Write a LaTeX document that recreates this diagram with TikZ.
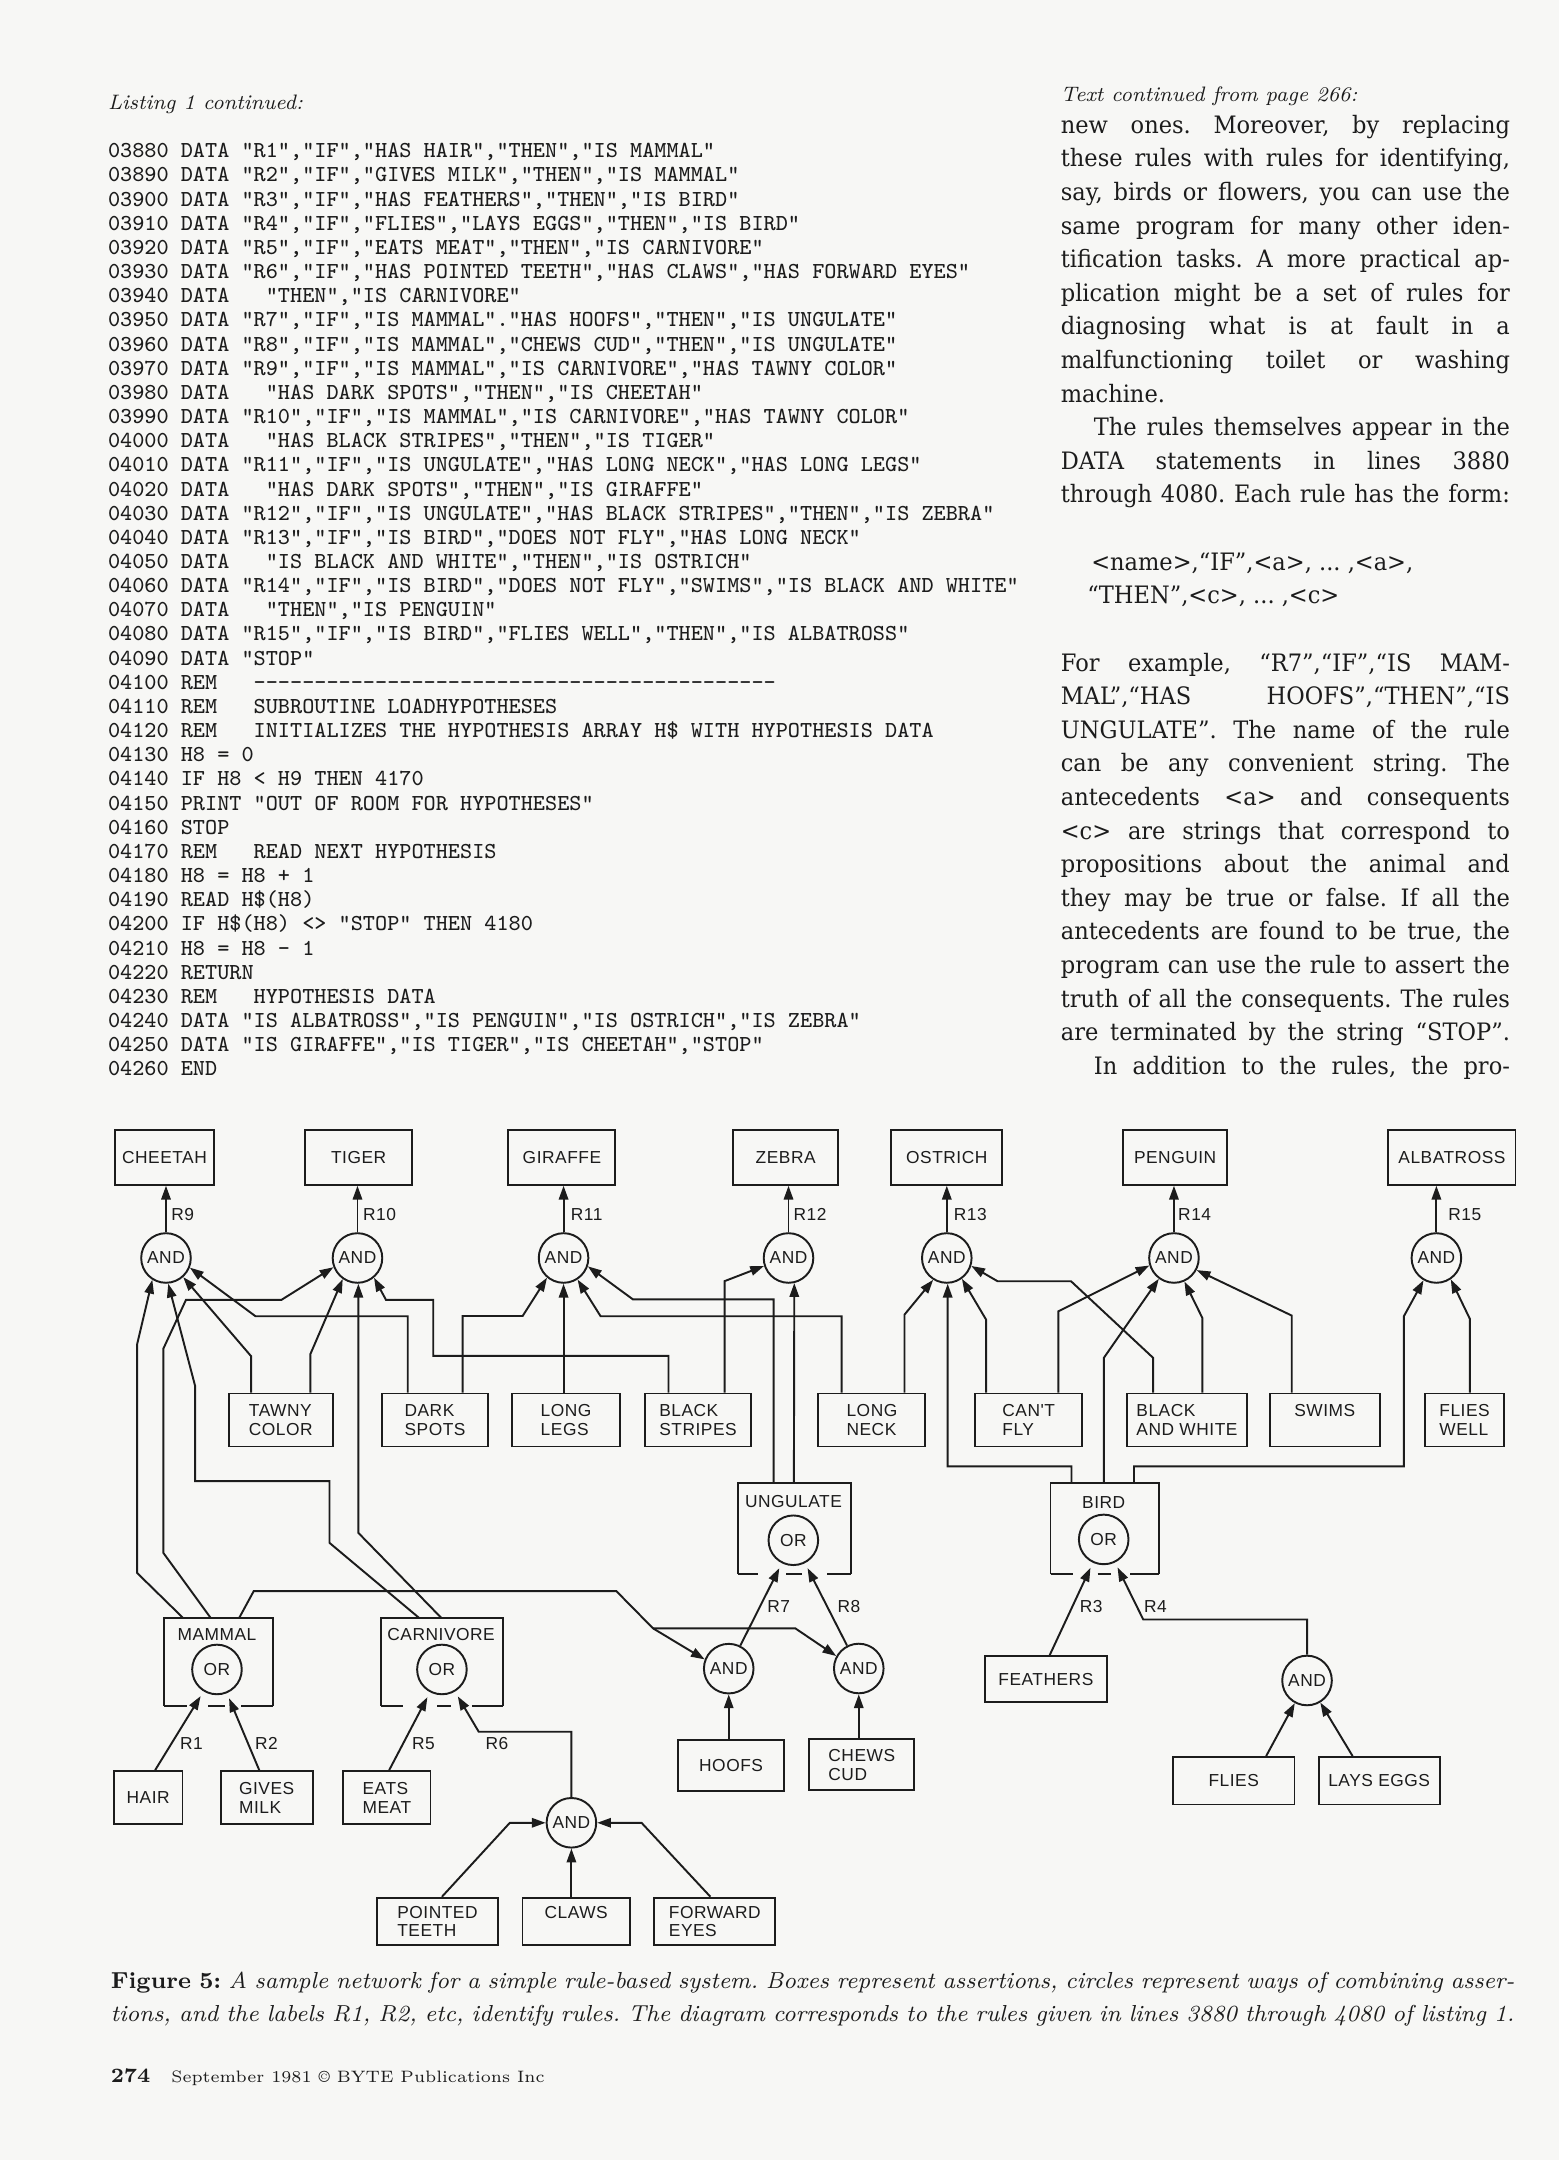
\documentclass[tikz,border=0pt]{standalone}
\usepackage{fontspec}
\newfontfamily\bodyfont[FakeStretch=0.94]{DejaVu Serif}
\newfontfamily\diafont[LetterSpace=3]{Liberation Sans}
\usetikzlibrary{arrows.meta}
\definecolor{paper}{RGB}{247,247,245}
\definecolor{ink}{RGB}{28,28,28}
\newdimen\un \un=0.5pt
\newcommand\J[1]{\makebox[163pt][s]{#1}}
\newcommand\dfont{\diafont\fontsize{6.3}{6.7}\selectfont}
\begin{document}
\frenchspacing
\begin{tikzpicture}[x=0.5pt,y=-0.5pt,
  box/.style={draw=ink,line width=0.7pt,inner sep=0pt,align=left,text=ink,font=\dfont},
  bx/.style 2 args={minimum width=#1\un,minimum height=#2\un},
  cont/.style={inner sep=0pt},
  gate/.style={draw=ink,line width=0.7pt,circle,minimum size=36\un,inner sep=0pt,text=ink,font=\dfont},
  lab/.style={inner sep=0pt,text=ink,font=\dfont},
  wire/.style={draw=ink,line width=0.7pt},
  arr/.style={wire,-{Triangle[length=5pt,width=3.4pt]}},
  arrs/.style={arr,shorten >=2pt},
  lst/.style={anchor=base west,inner sep=0pt,text=ink,font=\ttfamily\fontsize{8.3}{8.8}\selectfont},
  body/.style={anchor=base west,inner sep=0pt,text=ink,font=\bodyfont\fontsize{8.7}{10}\selectfont},
  head/.style={anchor=base west,inner sep=0pt,text=ink,font=\itshape\fontsize{7.6}{9}\selectfont}]
\fill[paper] (0,0) rectangle (1132,1568);
\useasboundingbox (0,0) rectangle (1132,1568);

% ---------------- listing ----------------
\node[head] (lhead) at (78,79.5) {Listing 1 continued:};
\foreach \t [count=\i from 0] in {
{03880 DATA "R1","IF","HAS HAIR","THEN","IS MAMMAL"},
{03890 DATA "R2","IF","GIVES MILK","THEN","IS MAMMAL"},
{03900 DATA "R3","IF","HAS FEATHERS","THEN","IS BIRD"},
{03910 DATA "R4","IF","FLIES","LAYS EGGS","THEN","IS BIRD"},
{03920 DATA "R5","IF","EATS MEAT","THEN","IS CARNIVORE"},
{03930 DATA "R6","IF","HAS POINTED TEETH","HAS CLAWS","HAS FORWARD EYES"},
{03940 DATA~~~"THEN","IS CARNIVORE"},
{03950 DATA "R7","IF","IS MAMMAL"."HAS HOOFS","THEN","IS UNGULATE"},
{03960 DATA "R8","IF","IS MAMMAL","CHEWS CUD","THEN","IS UNGULATE"},
{03970 DATA "R9","IF","IS MAMMAL","IS CARNIVORE","HAS TAWNY COLOR"},
{03980 DATA~~~"HAS DARK SPOTS","THEN","IS CHEETAH"},
{03990 DATA "R10","IF","IS MAMMAL","IS CARNIVORE","HAS TAWNY COLOR"},
{04000 DATA~~~"HAS BLACK STRIPES","THEN","IS TIGER"},
{04010 DATA "R11","IF","IS UNGULATE","HAS LONG NECK","HAS LONG LEGS"},
{04020 DATA~~~"HAS DARK SPOTS","THEN","IS GIRAFFE"},
{04030 DATA "R12","IF","IS UNGULATE","HAS BLACK STRIPES","THEN","IS ZEBRA"},
{04040 DATA "R13","IF","IS BIRD","DOES NOT FLY","HAS LONG NECK"},
{04050 DATA~~~"IS BLACK AND WHITE","THEN","IS OSTRICH"},
{04060 DATA "R14","IF","IS BIRD","DOES NOT FLY","SWIMS","IS BLACK AND WHITE"},
{04070 DATA~~~"THEN","IS PENGUIN"},
{04080 DATA "R15","IF","IS BIRD","FLIES WELL","THEN","IS ALBATROSS"},
{04090 DATA "STOP"},
{04100 REM~~~-{}-{}-{}-{}-{}-{}-{}-{}-{}-{}-{}-{}-{}-{}-{}-{}-{}-{}-{}-{}-{}-{}-{}-{}-{}-{}-{}-{}-{}-{}-{}-{}-{}-{}-{}-{}-{}-{}-{}-{}-{}-{}-{}},
{04110 REM~~~SUBROUTINE LOADHYPOTHESES},
{04120 REM~~~INITIALIZES THE HYPOTHESIS ARRAY H\$ WITH HYPOTHESIS DATA},
{04130 H8 = 0},
{04140 IF H8 < H9 THEN 4170},
{04150 PRINT "OUT OF ROOM FOR HYPOTHESES"},
{04160 STOP},
{04170 REM~~~READ NEXT HYPOTHESIS},
{04180 H8 = H8 + 1},
{04190 READ H\$(H8)},
{04200 IF H\$(H8) <> "STOP" THEN 4180},
{04210 H8 = H8 - 1},
{04220 RETURN},
{04230 REM~~~HYPOTHESIS DATA},
{04240 DATA "IS ALBATROSS","IS PENGUIN","IS OSTRICH","IS ZEBRA"},
{04250 DATA "IS GIRAFFE","IS TIGER","IS CHEETAH","STOP"},
{04260 END}}
  \node[lst] (L\i) at (78,114.5+17.54*\i) {\t};

% ---------------- right column ----------------
\node[head] (thead) at (769.7,74) {Text continued from page 266:};
\node[body] (b0) at (769.7,96.7) {\J{new ones. Moreover, by replacing}};
\node[body] (b1) at (769.7,121.1) {\J{these rules with rules for identifying,}};
\node[body] (b2) at (769.7,145.5) {\J{say, birds or flowers, you can use the}};
\node[body] (b3) at (769.7,169.9) {\J{same program for many other iden-}};
\node[body] (b4) at (769.7,194.3) {\J{tification tasks. A more practical ap-}};
\node[body] (b5) at (769.7,218.7) {\J{plication might be a set of rules for}};
\node[body] (b6) at (769.7,243.1) {\J{diagnosing what is at fault in a}};
\node[body] (b7) at (769.7,267.5) {\J{malfunctioning toilet or washing}};
\node[body] (b8) at (769.7,291.9) {machine.};
\node[body] (b9) at (769.7,316.3) {\J{\hspace*{12pt}The rules themselves appear in the}};
\node[body] (b10) at (769.7,340.7) {\J{DATA statements in lines 3880}};
\node[body] (b11) at (769.7,365.1) {\J{through 4080. Each rule has the form:}};
\node[body] (b13) at (791.8,413.9) {<name>,“IF”,<a>, ... ,<a>,};
\node[body] (b14) at (789,438.3) {“THEN”,<c>, ... ,<c>};
\node[body] (b16) at (769.7,487.1) {\J{For example, “R7”,“IF”,“IS MAM-}};
\node[body] (b17) at (769.7,511.5) {\J{MAL”,“HAS HOOFS”,“THEN”,“IS}};
\node[body] (b18) at (769.7,535.9) {\J{UNGULATE”. The name of the rule}};
\node[body] (b19) at (769.7,560.3) {\J{can be any convenient string. The}};
\node[body] (b20) at (769.7,584.7) {\J{antecedents <a> and consequents}};
\node[body] (b21) at (769.7,609.1) {\J{<c> are strings that correspond to}};
\node[body] (b22) at (769.7,633.5) {\J{propositions about the animal and}};
\node[body] (b23) at (769.7,657.9) {\J{they may be true or false. If all the}};
\node[body] (b24) at (769.7,682.3) {\J{antecedents are found to be true, the}};
\node[body] (b25) at (769.7,706.7) {\J{program can use the rule to assert the}};
\node[body] (b26) at (769.7,731.1) {\J{truth of all the consequents. The rules}};
\node[body] (b27) at (769.7,755.5) {\J{are terminated by the string “STOP”.}};
\node[body] (b28) at (769.7,779.9) {\J{\hspace*{12pt}In addition to the rules, the pro-}};

% ---------------- diagram: nodes ----------------
\node[box,bx={71.6}{39.5}] (cheetah) at (119.4,840.3) {CHEETAH};
\node[box,bx={77.7}{39.5}] (tiger) at (260.35,840.3) {TIGER};
\node[box,bx={77.6}{39.5}] (giraffe) at (407.9,840.3) {GIRAFFE};
\node[box,bx={75.9}{39.5}] (zebra) at (570.35,840.3) {ZEBRA};
\node[box,bx={80.4}{39.5}] (ostrich) at (687.3,840.3) {OSTRICH};
\node[box,bx={75.3}{39.5}] (penguin) at (853.05,840.3) {PENGUIN};
\node[box,bx={92.2}{39.5}] (albatross) at (1054,840.3) {ALBATROSS};

\node[gate] (a9) at (120.5,913.2) {AND};
\node[gate] (a10) at (259.5,913.2) {AND};
\node[gate] (a11) at (409.1,913.2) {AND};
\node[gate] (a12) at (572.4,913.2) {AND};
\node[gate] (a13) at (687.3,913.2) {AND};
\node[gate] (a14) at (852.2,913.2) {AND};
\node[gate] (a15) at (1042.7,913.2) {AND};

\node[lab,anchor=west] (rl9) at (124,881.5) {R9};
\node[lab,anchor=west] (rl10) at (263.2,881.5) {R10};
\node[lab,anchor=west] (rl11) at (414,881.5) {R11};
\node[lab,anchor=west] (rl12) at (575.7,881.5) {R12};
\node[lab,anchor=west] (rl13) at (692,881.5) {R13};
\node[lab,anchor=west] (rl14) at (854.9,881.5) {R14};
\node[lab,anchor=west] (rl15) at (1051,881.5) {R15};

\node[box,bx={75.9}{38.5}] (tawny) at (203.85,1030.8) {TAWNY\\COLOR};
\node[box,bx={76.6}{38.5}] (dark) at (315.8,1030.8) {DARK\\SPOTS};
\node[box,bx={78.3}{38.5}] (legs) at (410.95,1030.8) {LONG\\LEGS};
\node[box,bx={76.6}{38.5}] (stripes) at (506.7,1030.8) {BLACK\\STRIPES};
\node[box,bx={77.7}{38.5}] (neck) at (632.95,1030.8) {LONG\\NECK};
\node[box,bx={77.6}{38.5}] (cantfly) at (746.8,1030.8) {CAN'T\\FLY};
\node[box,bx={86.5}{38.5}] (bw) at (861.65,1030.8) {BLACK\\AND WHITE};
\node[box,bx={79.7}{38.5}] (swims) at (961.65,1030.8) {SWIMS\\\mbox{}};
\node[box,bx={57.1}{38.5}] (flieswell) at (1063.15,1030.8) {FLIES\\WELL};

% containers
\node[cont,bx={81.1}{65}] (ung) at (576.75,1109.7) {};
\node[cont,bx={77.7}{65.5}] (bird) at (801.85,1109.75) {};
\node[cont,bx={78.3}{62.7}] (mammal) at (158.35,1206.45) {};
\node[cont,bx={88}{62.7}] (carn) at (320.8,1206.45) {};
\node[lab] (unglab) at (576,1090.2) {UNGULATE};
\node[lab] (birdlab) at (801.2,1090.4) {BIRD};
\node[lab] (mamlab) at (157.5,1186.5) {MAMMAL};
\node[lab] (carnlab) at (320.2,1186.5) {CARNIVORE};
\node[gate] (ungor) at (575.9,1118.1) {OR};
\node[gate] (birdor) at (801.2,1117.5) {OR};
\node[gate] (mamor) at (157.5,1211.9) {OR};
\node[gate] (carnor) at (320.8,1211.9) {OR};

\draw[wire] (ung.south west) -- (ung.north west) -- (ung.north east) -- (ung.south east);
\draw[wire] (ung.south west) -- (ung.south -| 549.9,0) (ung.south -| 570.7,0) -- (ung.south -| 582.3,0) (ung.south -| 600.5,0) -- (ung.south east);
\draw[wire] (bird.south west) -- (bird.north west) -- (bird.north east) -- (bird.south east);
\draw[wire] (bird.south west) -- (bird.south -| 779.2,0) (bird.south -| 796.8,0) -- (bird.south -| 806.2,0) (bird.south -| 820.4,0) -- (bird.south east);
\draw[wire] (mammal.south west) -- (mammal.north west) -- (mammal.north east) -- (mammal.south east);
\draw[wire] (mammal.south west) -- (mammal.south -| 136,0) (mammal.south -| 151,0) -- (mammal.south -| 163,0) (mammal.south -| 175,0) -- (mammal.south east);
\draw[wire] (carn.south west) -- (carn.north west) -- (carn.north east) -- (carn.south east);
\draw[wire] (carn.south west) -- (carn.south -| 292.5,0) (carn.south -| 317.5,0) -- (carn.south -| 327.5,0) (carn.south -| 342.5,0) -- (carn.south east);

\node[gate] (r7a) at (529,1211.3) {AND};
\node[gate] (r8a) at (623.4,1211.2) {AND};
\node[gate] (r6a) at (414.8,1323.2) {AND};
\node[gate] (r4a) at (948.8,1219.9) {AND};

\node[box,bx={49.9}{38.7}] (hair) at (107.55,1305.05) {HAIR};
\node[box,bx={66.7}{38.7}] (milk) at (193.55,1305.05) {GIVES\\MILK};
\node[box,bx={63.3}{38.7}] (eats) at (280.85,1305.05) {EATS\\MEAT};
\node[box,bx={88.3}{34.6}] (pointed) at (317.55,1394.9) {POINTED\\TEETH};
\node[box,bx={77.9}{34.6}] (claws) at (418.25,1394.9) {CLAWS\\\mbox{}};
\node[box,bx={88}{34.6}] (forward) at (518.9,1394.9) {FORWARD\\EYES};
\node[box,bx={76.6}{37}] (hoofs) at (530.7,1281.7) {HOOFS};
\node[box,bx={76.3}{36.8}] (chews) at (625.55,1281.1) {CHEWS\\CUD};
\node[box,bx={88.5}{33.4}] (feathers) at (759.25,1218.9) {FEATHERS};
\node[box,bx={88.2}{34.4}] (flies) at (895.6,1292.7) {FLIES};
\node[box,bx={87.9}{34.4}] (lays) at (1001.15,1292.7) {LAYS EGGS};

\node[lab] (rl1) at (139,1265.6) {R1};
\node[lab] (rl2) at (193.4,1265.6) {R2};
\node[lab] (rl5) at (307.4,1265.6) {R5};
\node[lab] (rl6) at (360.8,1265.6) {R6};
\node[lab] (rl7) at (565.3,1166.4) {R7};
\node[lab] (rl8) at (616.3,1166.4) {R8};
\node[lab] (rl3) at (792.1,1165.9) {R3};
\node[lab] (rl4) at (838.7,1165.9) {R4};

% ---------------- diagram: connectors ----------------
\foreach \g/\b in {a9/cheetah,a10/tiger,a11/giraffe,a12/zebra,a13/ostrich,a14/penguin,a15/albatross}
  \draw[arr] (\g.north) -- (\g.north |- \b.south);

% into a9
\draw[arr] (mammal.north -| 133.1,0) -- (99.5,1141.8) -- (99.5,976) -- (a9.-122);
\draw[arr] (carn.north -| 304.5,0) -- (239.2,1120) -- (239.2,1075.2) -- (141.7,1075.2) -- (141.7,1006.3) -- (a9.-85);
\draw[arr] (tawny.north -| 182.3,0) -- (182.3,984.5) -- (a9.-48);
\draw[arr] (dark.north -| 296,0) -- (296,955.5) -- (185.5,955.5) -- (a9.-22);
% into a10
\draw[arr] (mammal.north -| 153.1,0) -- (118.6,1127.3) -- (118.6,979) -- (135,943.6) -- (204.3,943.6) -- (a10.-159);
\draw[arr] (tawny.north -| 225.3,0) -- (225.3,983) -- (a10.-125);
\draw[arr] (carn.north -| 320.6,0) -- (260.1,1112.7) -- (a10.-88);
\draw[arr] (stripes.north -| 485.3,0) -- (485.3,984.3) -- (314.5,984.3) -- (314.5,943.6) -- (280.2,943.6) -- (a10.-50);
% into a11
\draw[arr] (dark.north -| 335.8,0) -- (335.8,955.3) -- (379.4,955.3) -- (a11.-130);
\draw[arr] (legs.north -| a11.south) -- (a11.south);
\draw[arr] (neck.north -| 611,0) -- (611,955.5) -- (436,955.5) -- (a11.-57);
\draw[arr] (ung.north -| 561.6,0) -- (561.6,943.2) -- (459.4,943.2) -- (a11.-19.5);
% into a12
\draw[arr] (stripes.north -| 526,0) -- (526,930) -- (a12.-162);
\draw[arr] (ung.north -| 576.3,0) -- (a12.-77.5);
% into a13
\draw[arr] (neck.north -| 656.6,0) -- (656.6,954.3) -- (a13.-122);
\draw[arr] (bird.north -| 777.8,0) -- (777.8,1064.5) -- (687.9,1064.5) -- (a13.-88);
\draw[arr] (cantfly.north -| 715.8,0) -- (715.8,957.9) -- (a13.-54);
\draw[arr] (bw.north -| 837.1,0) -- (837.1,985.7) -- (777.5,930.1) -- (724.2,930.1) -- (a13.-18);
% into a14
\draw[arr] (cantfly.north -| 768.3,0) -- (768.3,951.9) -- (a14.-163);
\draw[arr] (bird.north -| 801.3,0) -- (801.3,985.7) -- (a14.-126);
\draw[arr] (bw.north -| 872.8,0) -- (872.8,956.7) -- (a14.-66);
\draw[arr] (swims.north -| 937.7,0) -- (937.7,955) -- (a14.-28);
% into a15
\draw[arr] (bird.north -| 823.2,0) -- (823.2,1064.5) -- (1019.1,1064.5) -- (1019.1,955.5) -- (a15.-120);
\draw[arr] (flieswell.north -| 1067,0) -- (1067,957.4) -- (a15.-56);

% middle
\coordinate (mj) at (474.1,1182.1);
\draw[arr] (mammal.north -| 173.5,0) -- (184.2,1155) -- (447.4,1155) -- (mj) -- (r7a.159);
\draw[arr] (mj) -- (577.4,1182.1) -- (r8a.151);
\draw[arr] (hoofs.north -| r7a.south) -- (r7a.south);
\draw[arr] (chews.north -| r8a.south) -- (r8a.south);
\draw[arrs] (r7a) -- (ungor);
\draw[arrs] (r8a) -- (ungor);
\draw[arrs] (hair.north -| 112.6,0) -- (mamor);
\draw[arrs] (milk.north -| 188.2,0) -- (mamor);
\draw[arrs] (eats.north -| 282.5,0) -- (carnor);
\draw[arrs] (r6a.north) -- (r6a.north |- 0,1257.1) -- (347.5,1257.1) -- (carnor);
\draw[arr] (pointed.north -| 320.8,0) -- (370.1,1323.2) -- (r6a.west);
\draw[arr] (forward.north -| 515.7,0) -- (465.7,1323.2) -- (r6a.east);
\draw[arr] (claws.north -| r6a.south) -- (r6a.south);
\draw[arrs] (feathers.north -| 762,0) -- (birdor);
\draw[arrs] (r4a.north) -- (r4a.north |- 0,1175.6) -- (829.9,1175.6) -- (birdor);
\draw[arr] (flies.north -| 919.1,0) -- (r4a);
\draw[arr] (lays.north -| 981.9,0) -- (r4a);

% ---------------- caption and footer ----------------
\node[anchor=base west,inner sep=0pt,text=ink,font=\fontsize{8.4}{10}\selectfont] (cap1) at (80,1443.5)
  {\makebox[509.5pt][s]{\textbf{Figure 5:} \itshape A sample network for a simple rule-based system. Boxes represent assertions, circles represent ways of combining asser-}};
\node[anchor=base west,inner sep=0pt,text=ink,font=\fontsize{8.4}{10}\selectfont] (cap2) at (80,1467.5)
  {\makebox[509.5pt][s]{\itshape tions, and the labels R1, R2, etc, identify rules. The diagram corresponds to the rules given in lines 3880 through 4080 of listing 1.}};
\node[anchor=base west,inner sep=0pt,text=ink,font=\bfseries\fontsize{7.4}{9}\selectfont] (pg) at (80,1512) {274};
\node[anchor=base west,inner sep=0pt,text=ink,font=\fontsize{6}{7}\selectfont] (foot) at (124,1512) {September 1981 © BYTE Publications Inc};
\end{tikzpicture}
\end{document}
